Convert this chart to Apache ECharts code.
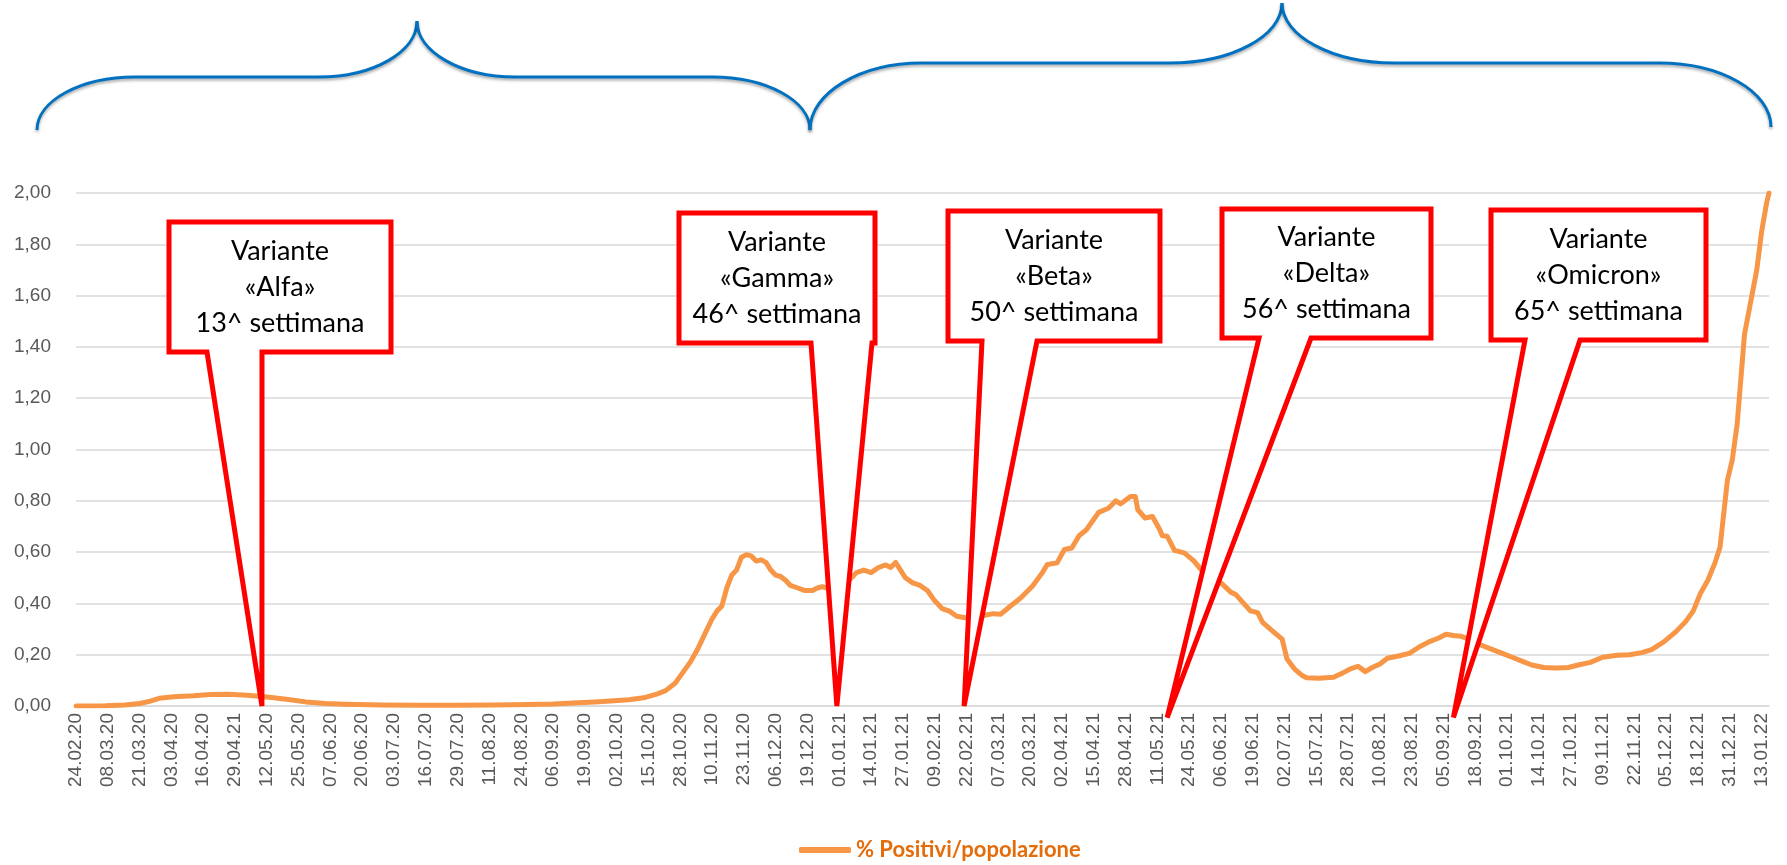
<!DOCTYPE html>
<html>
<head>
<meta charset="utf-8">
<script src="https://cdn.jsdelivr.net/npm/echarts@6/dist/echarts.min.js"></script>
<style>
  html, body { margin: 0; padding: 0; background: #fff; }
  #chart { width: 1787px; height: 865px; }
</style>
</head>
<body>
<div id="chart"></div>
<script>
// daily categories from 24.02.20 to 16.01.22
const firstDay = Date.UTC(2020, 1, 24);
const dayCount = 693;

// tick labels as printed on the original axis (one every 13 days)
const tickLabels = [
  '24.02.20', '08.03.20', '21.03.20', '03.04.20', '16.04.20', '29.04.21', '12.05.20', '25.05.20',
  '07.06.20', '20.06.20', '03.07.20', '16.07.20', '29.07.20', '11.08.20', '24.08.20', '06.09.20',
  '19.09.20', '02.10.20', '15.10.20', '28.10.20', '10.11.20', '23.11.20', '06.12.20', '19.12.20',
  '01.01.21', '14.01.21', '27.01.21', '09.02.21', '22.02.21', '07.03.21', '20.03.21', '02.04.21',
  '15.04.21', '28.04.21', '11.05.21', '24.05.21', '06.06.21', '19.06.21', '02.07.21', '15.07.21',
  '28.07.21', '10.08.21', '23.08.21', '05.09.21', '18.09.21', '01.10.21', '14.10.21', '27.10.21',
  '09.11.21', '22.11.21', '05.12.21', '18.12.21', '31.12.21', '13.01.22'
];

// readings of the curve: day (since 24.02.20) and % positivi/popolazione
const obsDay = [
  0, 12, 20, 26, 30, 34, 40, 48, 55, 62, 70, 78, 86, 94, 102, 110, 125, 140, 155, 170,
  185, 195, 203, 212, 220, 226, 232, 237, 241, 245, 248, 251, 254, 257, 260, 262, 264, 266, 268, 270,
  272, 274, 276, 278, 280, 282, 284, 286, 288, 290, 292, 295, 298, 301, 303, 305, 307, 310, 313, 316,
  319, 322, 325, 328, 331, 333, 335, 337, 339, 342, 345, 348, 351, 354, 357, 360, 363, 366, 369, 372,
  375, 378, 382, 386, 391, 395, 397, 401, 404, 407, 410, 413, 418, 422, 425, 427, 431, 433, 434, 437,
  440, 443, 444, 446, 449, 453, 457, 460, 464, 468, 472, 474, 480, 483, 485, 489, 493, 495, 498, 501,
  503, 508, 514, 518, 521, 524, 527, 530, 533, 536, 541, 545, 549, 553, 557, 560, 563, 566, 569, 572,
  575, 579, 583, 587, 591, 595, 600, 605, 610, 614, 619, 624, 630, 635, 640, 644, 649, 654, 658, 661,
  664, 667, 670, 672, 675, 677, 679, 682, 684, 687, 689, 691, 692
];
const obsValue = [
  0.000, 0.001, 0.004, 0.010, 0.018, 0.030, 0.036, 0.040, 0.045, 0.046, 0.042, 0.035, 0.026, 0.016, 0.010, 0.007, 0.004, 0.003, 0.003, 0.004,
  0.006, 0.008, 0.012, 0.016, 0.020, 0.024, 0.032, 0.045, 0.060, 0.090, 0.130, 0.170, 0.220, 0.280, 0.340, 0.370, 0.390, 0.460, 0.510, 0.530,
  0.580, 0.590, 0.585, 0.565, 0.570, 0.560, 0.530, 0.510, 0.505, 0.490, 0.470, 0.460, 0.450, 0.450, 0.460, 0.465, 0.460, 0.470, 0.470, 0.490,
  0.520, 0.530, 0.520, 0.540, 0.550, 0.540, 0.560, 0.530, 0.500, 0.480, 0.470, 0.450, 0.410, 0.380, 0.370, 0.350, 0.345, 0.340, 0.345, 0.355,
  0.360, 0.358, 0.390, 0.420, 0.468, 0.520, 0.552, 0.558, 0.610, 0.616, 0.664, 0.687, 0.755, 0.771, 0.800, 0.788, 0.817, 0.817, 0.765, 0.733,
  0.739, 0.687, 0.664, 0.662, 0.607, 0.597, 0.565, 0.530, 0.500, 0.480, 0.444, 0.435, 0.371, 0.364, 0.326, 0.293, 0.261, 0.183, 0.145, 0.120,
  0.110, 0.108, 0.112, 0.130, 0.145, 0.155, 0.134, 0.151, 0.164, 0.186, 0.196, 0.205, 0.230, 0.250, 0.265, 0.280, 0.275, 0.272, 0.262, 0.245,
  0.235, 0.220, 0.205, 0.190, 0.175, 0.160, 0.150, 0.148, 0.150, 0.160, 0.170, 0.190, 0.198, 0.200, 0.208, 0.220, 0.250, 0.290, 0.330, 0.370,
  0.440, 0.490, 0.560, 0.620, 0.880, 0.960, 1.100, 1.450, 1.550, 1.700, 1.850, 1.960, 2.000
];

// variant callouts: name, week, day the pointer aims at, value at the tip
const variantNames = ['Alfa', 'Gamma', 'Beta', 'Delta', 'Omicron'];
const variantWeeks = [13, 46, 50, 56, 65];
const variantTipDay = [76, 311, 363, 446, 563];
const variantTipValue = [0, 0, 0, -0.045, -0.045];

// callout box layout in px: left, top, right, bottom, pointer base left, pointer base right
const calloutBoxes = [
  [169, 222, 391, 352, 207, 262],
  [679, 213, 875, 343, 811, 872],
  [948, 211, 1160, 341, 982, 1037],
  [1222, 209, 1431, 338, 1259, 1311],
  [1491, 210, 1706, 340, 1525, 1580]
];

// braces: left end, flat y, peak, right end (px)
const braces = [
  { x0: 37, y0: 130, flat: 77, peakX: 417, peakY: 21, x1: 810, y1: 130, rx: 98 },
  { x0: 810, y0: 130, flat: 63, peakX: 1282, peakY: 3, x1: 1771, y1: 127, rx: 112 }
];

function pad(n) { return n < 10 ? '0' + n : '' + n; }
const categories = [];
for (let i = 0; i < dayCount; i++) {
  const d = new Date(firstDay + i * 86400000);
  categories.push(pad(d.getUTCDate()) + '.' + pad(d.getUTCMonth() + 1) + '.' + String(d.getUTCFullYear()).slice(2));
}

const chart = echarts.init(document.getElementById('chart'));

const option = {
  animation: false,
  grid: { left: 76, right: 18, top: 193, bottom: 159 },
  legend: {
    data: ['% Positivi/popolazione'],
    left: 794,
    top: 834,
    icon: 'roundRect',
    itemWidth: 52,
    itemHeight: 6,
    itemGap: 6,
    textStyle: {
      color: '#E46C0A',
      fontFamily: 'Lato',
      fontWeight: 'bold',
      fontSize: 22
    }
  },
  xAxis: {
    type: 'category',
    data: categories,
    boundaryGap: false,
    axisLine: { lineStyle: { color: '#D9D9D9', width: 1.5 } },
    axisTick: { show: false },
    axisLabel: {
      interval: 12,
      rotate: 90,
      margin: 7,
      color: '#595959',
      fontFamily: 'Liberation Sans',
      fontSize: 19,
      formatter: (val, idx) => tickLabels[idx / 13] || val
    }
  },
  yAxis: {
    type: 'value',
    min: 0,
    max: 2,
    interval: 0.2,
    axisLine: { show: false },
    axisTick: { show: false },
    splitLine: { lineStyle: { color: '#D9D9D9', width: 1.5 } },
    axisLabel: {
      margin: 25,
      color: '#595959',
      fontFamily: 'Liberation Sans',
      fontSize: 19,
      formatter: v => v.toFixed(2).replace('.', ',')
    }
  },
  series: [
    {
      name: '% Positivi/popolazione',
      type: 'line',
      symbol: 'none',
      smooth: false,
      data: obsDay.map((d, i) => [d, obsValue[i]]),
      lineStyle: { color: '#F79646', width: 5, cap: 'round', join: 'round' },
      itemStyle: { color: '#F79646' }
    }
  ]
};

chart.setOption(option);

// curly braces above the plot, built from curves and straight segments
const braceStyle = {
  fill: null,
  stroke: '#0070C0',
  lineWidth: 3,
  shadowColor: 'rgba(0,0,0,0.35)',
  shadowBlur: 3,
  shadowOffsetY: 2
};
const k = 0.5523;
const graphics = [];
braces.forEach(b => {
  const rx = b.rx;
  const curves = [
    [b.x0, b.y0, b.x0 + rx, b.flat, b.x0, b.y0 - (b.y0 - b.flat) * k, b.x0 + rx - rx * k, b.flat],
    [b.peakX - rx, b.flat, b.peakX, b.peakY, b.peakX - rx + rx * k, b.flat, b.peakX, b.peakY + (b.flat - b.peakY) * k],
    [b.peakX, b.peakY, b.peakX + rx, b.flat, b.peakX, b.peakY + (b.flat - b.peakY) * k, b.peakX + rx - rx * k, b.flat],
    [b.x1 - rx, b.flat, b.x1, b.y1, b.x1 - rx + rx * k, b.flat, b.x1, b.y1 - (b.y1 - b.flat) * k]
  ];
  curves.forEach(c => {
    graphics.push({
      type: 'bezierCurve',
      shape: { x1: c[0], y1: c[1], x2: c[2], y2: c[3], cpx1: c[4], cpy1: c[5], cpx2: c[6], cpy2: c[7] },
      style: braceStyle,
      z: 50
    });
  });
  [[b.x0 + rx, b.peakX - rx], [b.peakX + rx, b.x1 - rx]].forEach(s => {
    graphics.push({
      type: 'line',
      shape: { x1: s[0], y1: b.flat, x2: s[1], y2: b.flat },
      style: braceStyle,
      z: 50
    });
  });
});

variantNames.forEach((name, i) => {
  const tip = chart.convertToPixel({ gridIndex: 0 }, [variantTipDay[i], variantTipValue[i]]);
  const [l, t, r, b, bl, br] = calloutBoxes[i];
  graphics.push({
    type: 'polygon',
    shape: { points: [[l, t], [r, t], [r, b], [br, b], tip, [bl, b], [l, b]] },
    style: { fill: '#fff', stroke: '#FF0000', lineWidth: 5 },
    z: 100
  });
  graphics.push({
    type: 'text',
    x: (l + r) / 2,
    y: (t + b) / 2,
    style: {
      text: 'Variante\n«' + name + '»\n' + variantWeeks[i] + '^ settimana',
      fill: '#000',
      fontFamily: 'Lato',
      fontSize: 27,
      lineHeight: 36,
      align: 'center',
      verticalAlign: 'middle'
    },
    z: 101
  });
});

chart.setOption({ graphic: graphics });

window.addEventListener('resize', () => chart.resize());
</script>
</body>
</html>
